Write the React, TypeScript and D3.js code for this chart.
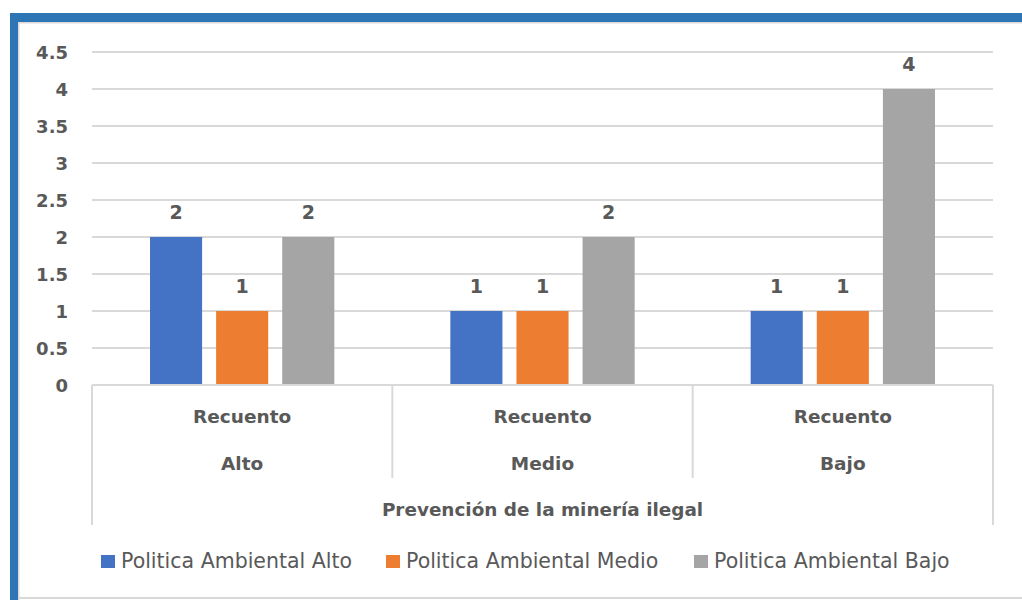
import React, { useEffect, useRef } from "react";
import * as d3 from "d3";

const categories = ["Alto", "Medio", "Bajo"];
const subLabel = "Recuento";
const axisTitle = "Prevención de la minería ilegal";
const seriesNames = ["Politica Ambiental Alto", "Politica Ambiental Medio", "Politica Ambiental Bajo"];
const seriesColors = ["#4472C4", "#ED7D31", "#A5A5A5"];
const alto = [2, 1, 1];
const medio = [1, 1, 1];
const bajo = [2, 2, 4];
const yTicks = [0, 0.5, 1, 1.5, 2, 2.5, 3, 3.5, 4, 4.5];

const W = 1022;
const H = 600;
const FONT = "'DejaVu Sans', sans-serif";
const TEXT = "#595959";
const GRID = "#D9D9D9";

export default function App() {
  const ref = useRef<SVGSVGElement | null>(null);

  useEffect(() => {
    const svg = d3.select(ref.current);
    svg.selectAll("*").remove();

    // frame
    svg.append("rect").attr("x", 0).attr("y", 0).attr("width", W).attr("height", H).attr("fill", "#fff");
    svg.append("rect").attr("x", 10).attr("y", 13).attr("width", W - 10).attr("height", 9).attr("fill", "#2E75B6");
    svg.append("rect").attr("x", 10).attr("y", 13).attr("width", 8).attr("height", H - 13).attr("fill", "#2E75B6");
    svg.append("rect").attr("x", 18).attr("y", 22).attr("width", W - 18).attr("height", 1.5).attr("fill", "#D9D9D9");
    svg.append("rect").attr("x", 18).attr("y", 22).attr("width", 1.5).attr("height", H - 22).attr("fill", "#D9D9D9");
    svg.append("rect").attr("x", 18).attr("y", 597).attr("width", W - 18).attr("height", 2).attr("fill", "#D9D9D9");

    const left = 92;
    const right = 993;
    const y = d3.scaleLinear().domain([0, 4.5]).range([385, 52]);
    const x0 = d3.scaleBand<string>().domain(categories).range([left, right]).paddingInner(0).paddingOuter(0);
    const x1 = d3
      .scaleBand<number>()
      .domain([0, 1, 2])
      .range([58, x0.bandwidth() - 58])
      .paddingInner(0.212)
      .paddingOuter(0);

    // gridlines
    const g = svg.append("g");
    g.selectAll("line.grid")
      .data(yTicks.filter((t) => t > 0))
      .join("line")
      .attr("x1", left)
      .attr("x2", right)
      .attr("y1", (d) => y(d))
      .attr("y2", (d) => y(d))
      .attr("stroke", GRID)
      .attr("stroke-width", 2);

    // y tick labels
    g.selectAll("text.tick")
      .data(yTicks)
      .join("text")
      .attr("x", 68)
      .attr("y", (d) => y(d) + 7)
      .attr("text-anchor", "end")
      .attr("font-family", FONT)
      .attr("font-weight", "bold")
      .attr("font-size", 18)
      .attr("fill", TEXT)
      .text((d) => String(d));

    // bars
    const series = [alto, medio, bajo];
    const rows = categories.flatMap((c, ci) =>
      series.map((s, si) => ({ cat: c, si, v: s[ci] }))
    );
    const barG = svg.append("g");
    barG.selectAll("rect")
      .data(rows)
      .join("rect")
      .attr("x", (d) => (x0(d.cat) as number) + (x1(d.si) as number))
      .attr("y", (d) => y(d.v))
      .attr("width", x1.bandwidth())
      .attr("height", (d) => y(0) - y(d.v))
      .attr("fill", (d) => seriesColors[d.si]);

    barG.selectAll("text")
      .data(rows)
      .join("text")
      .attr("x", (d) => (x0(d.cat) as number) + (x1(d.si) as number) + x1.bandwidth() / 2)
      .attr("y", (d) => y(d.v) - 18)
      .attr("text-anchor", "middle")
      .attr("font-family", FONT)
      .attr("font-weight", "bold")
      .attr("font-size", 19)
      .attr("fill", TEXT)
      .text((d) => String(d.v));

    // category axis
    const ax = svg.append("g");
    ax.append("line")
      .attr("x1", left).attr("x2", right)
      .attr("y1", y(0)).attr("y2", y(0))
      .attr("stroke", GRID).attr("stroke-width", 2);
    const bounds = [left, ...categories.map((c) => (x0(c) as number) + x0.bandwidth())];
    ax.selectAll("line.div")
      .data(bounds)
      .join("line")
      .attr("x1", (d) => d).attr("x2", (d) => d)
      .attr("y1", y(0))
      .attr("y2", (d, i) => (i === 0 || i === bounds.length - 1 ? 525 : 478))
      .attr("stroke", GRID).attr("stroke-width", 2);

    categories.forEach((c) => {
      const cx = (x0(c) as number) + x0.bandwidth() / 2;
      ax.append("text").attr("x", cx).attr("y", 423).attr("text-anchor", "middle")
        .attr("font-family", FONT).attr("font-weight", "bold").attr("font-size", 18.5)
        .attr("fill", TEXT).text(subLabel);
      ax.append("text").attr("x", cx).attr("y", 470).attr("text-anchor", "middle")
        .attr("font-family", FONT).attr("font-weight", "bold").attr("font-size", 18.5)
        .attr("fill", TEXT).text(c);
    });
    ax.append("text").attr("x", (left + right) / 2).attr("y", 516).attr("text-anchor", "middle")
      .attr("font-family", FONT).attr("font-weight", "bold").attr("font-size", 18.4)
      .attr("fill", TEXT).text(axisTitle);

    // legend
    const legendX = [101, 386, 694];
    const lg = svg.append("g");
    seriesNames.forEach((name, i) => {
      lg.append("rect").attr("x", legendX[i]).attr("y", 555).attr("width", 14).attr("height", 13)
        .attr("fill", seriesColors[i]);
      lg.append("text").attr("x", legendX[i] + 20).attr("y", 568)
        .attr("font-family", FONT).attr("font-size", 20.5).attr("fill", TEXT).text(name);
    });
  }, []);

  return (
    <svg
      ref={ref}
      width={W}
      height={H}
      style={{ position: "absolute", left: 0, top: 0, display: "block" }}
    />
  );
}
